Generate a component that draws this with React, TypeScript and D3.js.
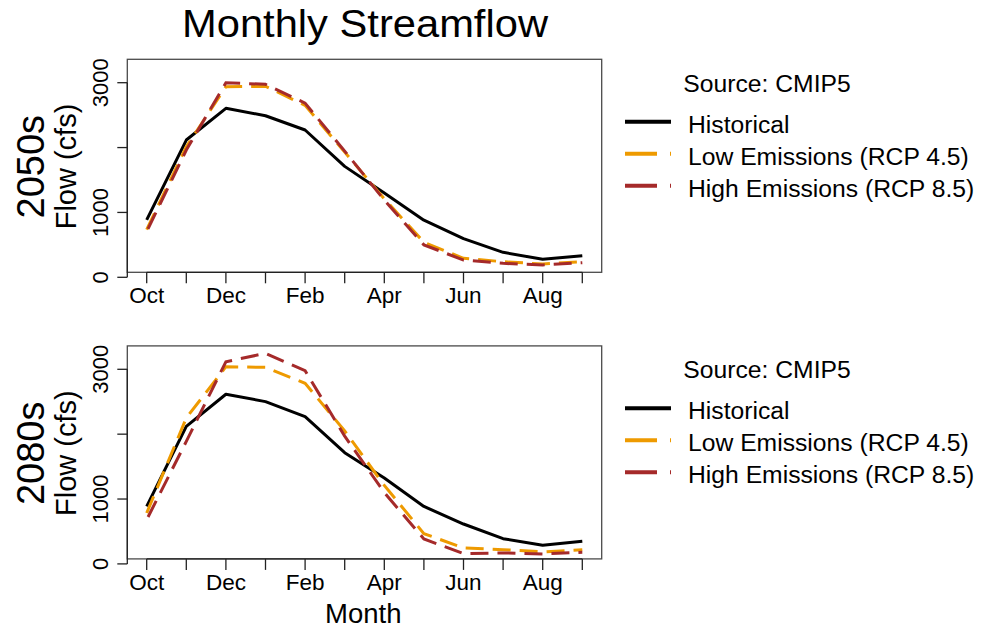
import React from "react";
import * as d3 from "d3";

const months = ["Oct", "Nov", "Dec", "Jan", "Feb", "Mar", "Apr", "May", "Jun", "Jul", "Aug", "Sep"];
const monthLabels = ["Oct", "", "Dec", "", "Feb", "", "Apr", "", "Jun", "", "Aug", ""];
const yTicks = [0, 1000, 2000, 3000];
const yTickLabels = ["0", "1000", "", "3000"];

const hist2050 = [885, 2116, 2605, 2491, 2271, 1710, 1300, 880, 595, 385, 277, 333];
const low2050 = [735, 2013, 2938, 2945, 2650, 1930, 1210, 540, 292, 240, 205, 240];
const high2050 = [705, 1962, 3000, 2975, 2685, 1945, 1190, 500, 266, 215, 190, 225];

const hist2080 = [886, 2120, 2615, 2502, 2271, 1715, 1325, 886, 615, 389, 286, 348];
const low2080 = [785, 2250, 3040, 3030, 2785, 2050, 1210, 467, 246, 220, 185, 220];
const high2080 = [682, 1889, 3117, 3246, 2978, 1970, 1100, 385, 158, 169, 154, 178];

const panelNames = ["2050s", "2080s"];
const seriesNames = ["Historical", "Low Emissions (RCP 4.5)", "High Emissions (RCP 8.5)"];
const seriesColors = ["#000000", "#EE9A00", "#A52A2A"];
const sourceLabel = "Source: CMIP5";

const FONT = "'Liberation Sans', Arial, Helvetica, sans-serif";

const panels = [
  { name: panelNames[0], series: [hist2050, low2050, high2050] },
  { name: panelNames[1], series: [hist2080, low2080, high2080] },
];

function Panel({ p, dy }: { p: { name: string; series: number[][] }; dy: number }) {
  const x = d3.scaleLinear().domain([0, 11]).range([146.7, 582.3]);
  const y = d3.scaleLinear().domain([0, 3000]).range([277.3 + dy, 82.7 + dy]);
  const boxL = 127.3, boxR = 601.7, boxT = 59.3 + dy, boxB = 272.3 + dy;
  const line = d3
    .line<number>()
    .x((_, i) => x(i))
    .y((v) => y(v));
  const legY = (i: number) => 121.7 + dy + i * 32;
  return (
    <g>
      <rect x={boxL} y={boxT} width={boxR - boxL} height={boxB - boxT} fill="none" stroke="#4a4a4a" strokeWidth={1.3} />
      <line x1={boxL} x2={boxL} y1={y(0)} y2={y(3000)} stroke="#222" strokeWidth={1.3} />
      {yTicks.map((t, i) => (
        <g key={t}>
          <line x1={boxL} x2={boxL - 10} y1={y(t)} y2={y(t)} stroke="#222" strokeWidth={1.3} />
          {yTickLabels[i] && (
            <text
              transform={`translate(${108},${y(t)}) rotate(-90)`}
              textAnchor="middle"
              fontSize={22}
              fontFamily={FONT}
            >
              {yTickLabels[i]}
            </text>
          )}
        </g>
      ))}
      <line x1={x(0)} x2={x(11)} y1={boxB} y2={boxB} stroke="#222" strokeWidth={1.3} />
      {months.map((m, i) => (
        <g key={m}>
          <line x1={x(i)} x2={x(i)} y1={boxB} y2={boxB + 11} stroke="#222" strokeWidth={1.3} />
          {monthLabels[i] && (
            <text x={x(i)} y={303.3 + dy} textAnchor="middle" fontSize={22.5} fontFamily={FONT}>
              {monthLabels[i]}
            </text>
          )}
        </g>
      ))}
      <text transform={`translate(${43.5},${166.7 + dy}) rotate(-90)`} textAnchor="middle" fontSize={38} fontFamily={FONT}>
        {p.name}
      </text>
      <text transform={`translate(${75.5},${166.5 + dy}) rotate(-90)`} textAnchor="middle" fontSize={29} fontFamily={FONT}>
        Flow (cfs)
      </text>
      <g>
        <path d={line(p.series[0]) || ""} fill="none" stroke={seriesColors[0]} strokeWidth={3} strokeLinejoin="round" />
        <path d={line(p.series[1]) || ""} fill="none" stroke={seriesColors[1]} strokeWidth={3} strokeDasharray="18,9" />
        <path d={line(p.series[2]) || ""} fill="none" stroke={seriesColors[2]} strokeWidth={3} strokeDasharray="18,9" strokeDashoffset={-3} />
      </g>
      <text x={683.3} y={91.7 + dy} fontSize={24.7} fontFamily={FONT}>
        {sourceLabel}
      </text>
      {seriesNames.map((s, i) => (
        <g key={s}>
          <line
            x1={625}
            x2={671}
            y1={legY(i)}
            y2={legY(i)}
            stroke={seriesColors[i]}
            strokeWidth={4}
            strokeDasharray={i === 0 ? undefined : "32,13"}
          />
          <text x={688} y={legY(i) + 11} fontSize={24.7} fontFamily={FONT}>
            {s}
          </text>
        </g>
      ))}
    </g>
  );
}

export default function App() {
  return (
    <svg width={982} height={629} style={{ position: "absolute", left: 0, top: 0, background: "#fff" }}>
      <rect width={982} height={629} fill="#fff" />
      <text x={365} y={37.3} textAnchor="middle" fontSize={38} fontFamily={FONT} textLength={366} lengthAdjust="spacingAndGlyphs">
        Monthly Streamflow
      </text>
      {panels.map((p, i) => (
        <Panel key={p.name} p={p} dy={i * 286.6} />
      ))}
      <text x={363.3} y={622.5} textAnchor="middle" fontSize={27.5} fontFamily={FONT}>
        Month
      </text>
    </svg>
  );
}
